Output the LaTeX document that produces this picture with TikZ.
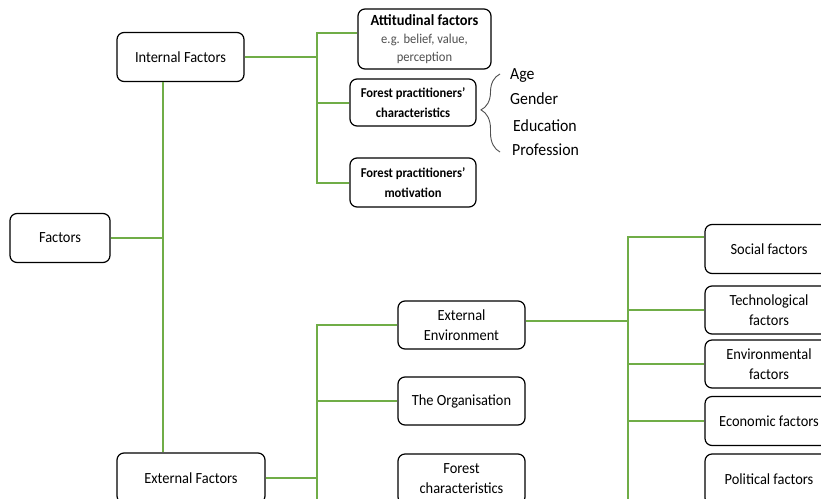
\documentclass[tikz,border=0pt]{standalone}
\usepackage{fontspec}
\setmainfont{Carlito}[FakeStretch=0.93]
\usetikzlibrary{positioning, decorations.pathreplacing}
\definecolor{grn}{RGB}{112,173,71}
\definecolor{note}{RGB}{80,80,80}
\tikzstyle{box} = [rectangle, rounded corners=7pt, draw=black, line width=1.2pt, fill=white, align=center, inner sep=2pt, font=\fontsize{15.5}{20}\selectfont]
\tikzstyle{boldbox} = [box, font=\fontsize{13.5}{20}\selectfont\bfseries]
\tikzstyle{item} = [anchor=west, inner sep=0pt, font=\fontsize{17}{18}\selectfont]
\tikzstyle{link} = [draw=grn, line width=2pt]

\begin{document}
\begin{tikzpicture}[x=1pt, y=-1pt]
  \clip (0,0) rectangle (821,498);
  \useasboundingbox (0,0) rectangle (821,498);

  % left part
  \node (fac) [box, minimum width=100pt, minimum height=49pt] at (60,238) {Factors};
  \node (int) [box, minimum width=127pt, minimum height=49pt] at (180.5,57) {Internal Factors};
  \node (ext) [box, minimum width=148pt, minimum height=50pt] at (191,478) {External Factors};

  % internal factors
  \node (att) [box, minimum width=133pt, minimum height=60pt, font=\fontsize{13.5}{18}\selectfont] at (424.5,39) {{\fontsize{15.5}{18}\selectfont\bfseries Attitudinal factors}\\\textcolor{note}{e.g. belief, value,}\\\textcolor{note}{perception}};
  \node (char) [boldbox, minimum width=126pt, minimum height=47pt] at (413,102.5) {Forest practitioners'\\characteristics};
  \node (motiv) [boldbox, minimum width=126pt, minimum height=49pt] at (413,182.5) {Forest practitioners'\\motivation};
  \node (age) [item] at (510,76) {Age};
  \node (gender) [item] at (510,99) {Gender};
  \node (edu) [item] at (513,126) {Education};
  \node (prof) [item] at (512,150) {Profession};

  % external factors
  \node (env) [box, minimum width=127pt, minimum height=48pt] at (461.5,325) {External\\Environment};
  \node (org) [box, minimum width=127pt, minimum height=48pt] at (461.5,401) {The Organisation};
  \node (forest) [box, minimum width=127pt, minimum height=50pt] at (461.5,479) {Forest\\characteristics};

  \node (soc) [box, minimum width=128pt, minimum height=49pt] at (769,249) {Social factors};
  \node (tech) [box, minimum width=128pt, minimum height=48pt] at (769,310) {Technological\\factors};
  \node (envf) [box, minimum width=128pt, minimum height=48pt] at (769,364) {Environmental\\factors};
  \node (econ) [box, minimum width=128pt, minimum height=49pt] at (769,421) {Economic factors};
  \node (pol) [box, minimum width=128pt, minimum height=51pt] at (769,479.5) {Political factors};

  \coordinate (jfac) at (163,238);
  \coordinate (jint) at (317,57);
  \coordinate (jext) at (317,478);
  \coordinate (jenv) at (628,321);
  \coordinate (down) at (0,510);

  % connectors
  \draw [link] (fac.east) -- (jfac);
  \draw [link] (int.south -| jfac) -- (ext.north -| jfac);
  \draw [link] (int.east) -- (jint);
  \draw [link] ([yshift=6pt]att.west) -| (motiv.west -| jint) -- (motiv.west);
  \draw [link] (char.west -| jint) -- (char.west);
  \draw [link] (ext.east) -- (jext);
  \draw [link] (env.west) -| (down -| jext);
  \draw [link] (org.west -| jext) -- (org.west);
  \draw [link] (env.east |- jenv) -- (jenv);
  \draw [link] ([yshift=12pt]soc.west) -| (down -| jenv);
  \draw [link] (tech.west -| jenv) -- (tech.west);
  \draw [link] (envf.west -| jenv) -- (envf.west);
  \draw [link] (econ.west -| jenv) -- (econ.west);

  % brace
  \draw [note, line width=0.9pt, decorate, decoration={brace, amplitude=19pt, aspect=0.54}] (500,152) -- (500,74);
\end{tikzpicture}
\end{document}
